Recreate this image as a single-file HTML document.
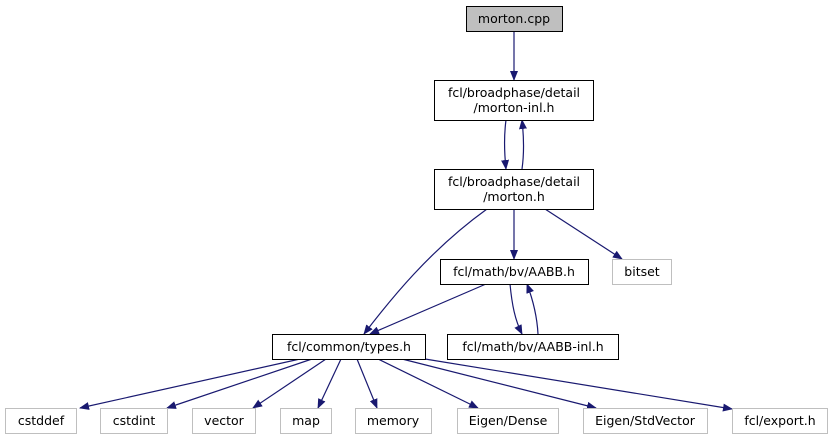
<!DOCTYPE html>
<html><head><meta charset="utf-8"><style>
html,body{margin:0;padding:0;background:#fff;}
svg text{font-family:"DejaVu Sans","Liberation Sans",sans-serif;font-size:12.5px;text-anchor:middle;fill:#000;}
</style></head><body>
<svg width="833" height="440" viewBox="0 0 833 440" xmlns="http://www.w3.org/2000/svg">
<defs><marker id="a" markerWidth="10" markerHeight="8" refX="9" refY="4" orient="auto" markerUnits="userSpaceOnUse"><path d="M0,0 L10,4 L0,8 z" fill="#191970"/></marker></defs>
<g fill="none" stroke="#191970" stroke-width="1.2" marker-end="url(#a)">
<path d="M514,31 L514,80"/>
<path d="M506,120 C504,135 504,150 506,169"/>
<path d="M522,169 C524,155 524,138 522,120"/>
<path d="M514,209 L514,259"/>
<path d="M545,209 L622,259"/>
<path d="M487,209 C430,250 390,300 364,334"/>
<path d="M486,284 L370,334"/>
<path d="M510,284 C512,305 515,320 522,334"/>
<path d="M538,334 C537,315 533,300 527,284"/>
<path d="M300,359 L80,408"/>
<path d="M312,359 L167,408"/>
<path d="M326,359 L253,408"/>
<path d="M341,359 L318,408"/>
<path d="M357,359 L377,408"/>
<path d="M378,359 L478,408"/>
<path d="M402,359 L596,408"/>
<path d="M425,359 L732,409"/>
</g>
<g stroke-width="1">
<rect x="466.5" y="6.5" width="96" height="25" fill="#bfbfbf" stroke="#000"/>
<rect x="434.5" y="80.5" width="159" height="40" fill="#fff" stroke="#000"/>
<rect x="434.5" y="169.5" width="159" height="40" fill="#fff" stroke="#000"/>
<rect x="440.5" y="259.5" width="148" height="25" fill="#fff" stroke="#000"/>
<rect x="612.5" y="259.5" width="59" height="25" fill="#fff" stroke="#bfbfbf"/>
<rect x="272.5" y="334.5" width="153" height="25" fill="#fff" stroke="#000"/>
<rect x="447.5" y="334.5" width="171" height="25" fill="#fff" stroke="#000"/>
<g fill="#fff" stroke="#bfbfbf">
<rect x="5.5" y="408.5" width="71" height="25"/>
<rect x="100.5" y="408.5" width="67" height="25"/>
<rect x="192.5" y="408.5" width="63" height="25"/>
<rect x="280.5" y="408.5" width="51" height="25"/>
<rect x="355.5" y="408.5" width="76" height="25"/>
<rect x="457.5" y="408.5" width="101" height="25"/>
<rect x="583.5" y="408.5" width="124" height="25"/>
<rect x="732.5" y="408.5" width="95" height="25"/>
</g>
</g>
<text x="514" y="23">morton.cpp</text>
<text x="514" y="97">fcl/broadphase/detail</text>
<text x="514" y="112">/morton-inl.h</text>
<text x="514" y="186">fcl/broadphase/detail</text>
<text x="514" y="201">/morton.h</text>
<text x="514" y="276">fcl/math/bv/AABB.h</text>
<text x="642" y="276">bitset</text>
<text x="349" y="351">fcl/common/types.h</text>
<text x="533" y="351">fcl/math/bv/AABB-inl.h</text>
<text x="41" y="425">cstddef</text>
<text x="134" y="425">cstdint</text>
<text x="224" y="425">vector</text>
<text x="306" y="425">map</text>
<text x="393" y="425">memory</text>
<text x="508" y="425">Eigen/Dense</text>
<text x="645" y="425">Eigen/StdVector</text>
<text x="780" y="425">fcl/export.h</text>
</svg>
</body></html>
